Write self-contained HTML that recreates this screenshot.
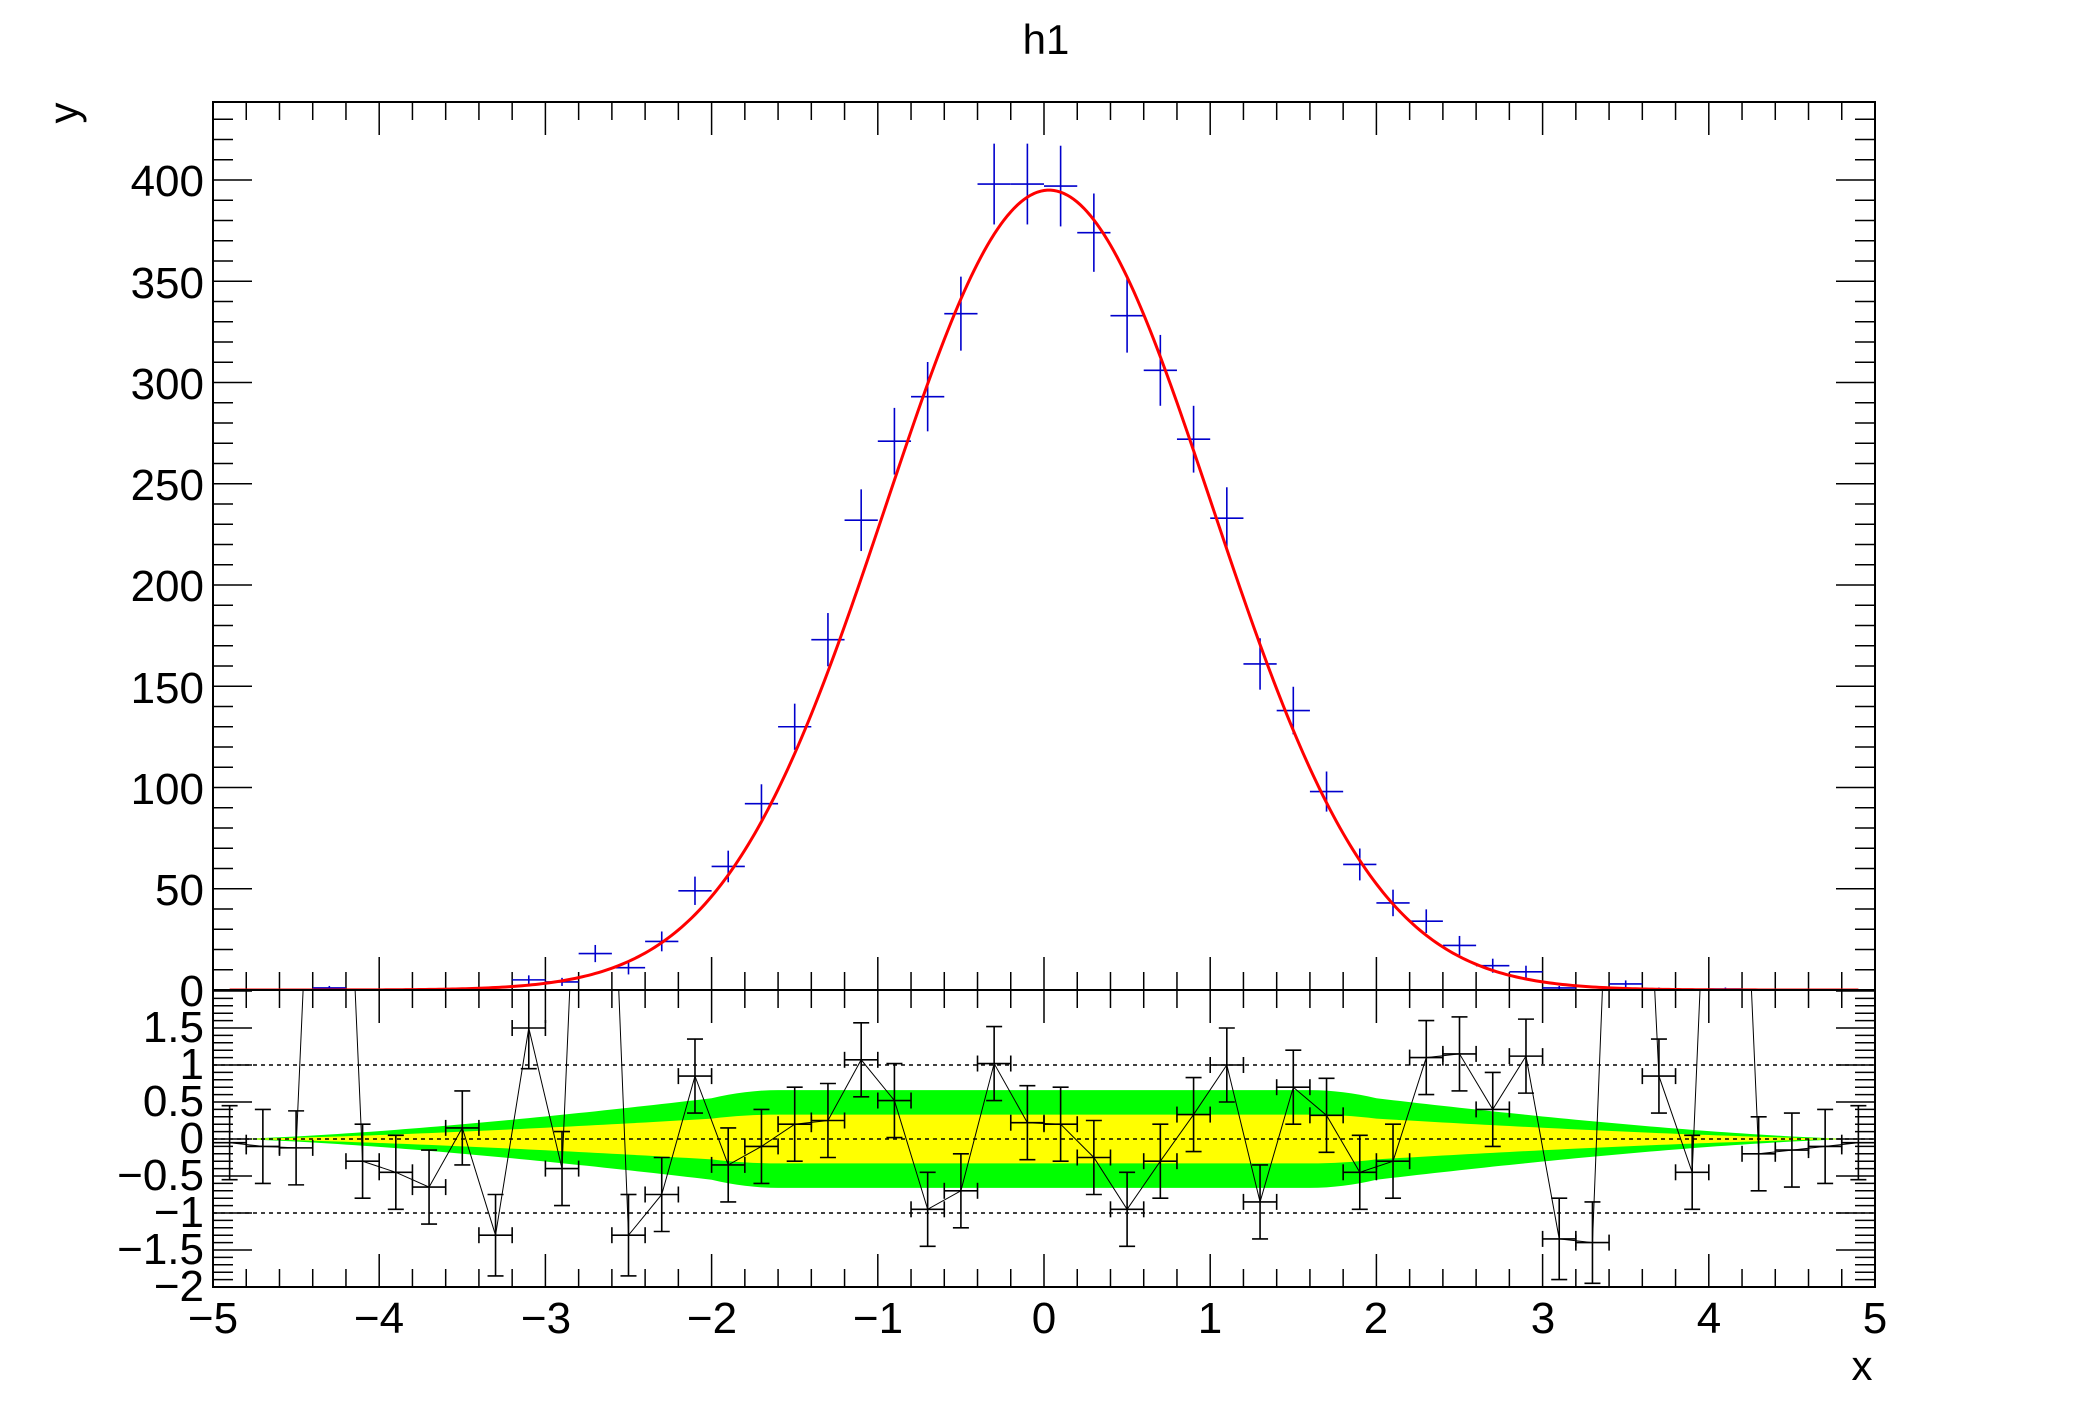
<!DOCTYPE html>
<html><head><meta charset="utf-8"><style>
html,body{margin:0;padding:0;background:#fff;}
svg{display:block;}
text{font-family:"Liberation Sans",sans-serif;fill:#000;}
</style></head><body>
<svg id="s" width="2088" height="1416" viewBox="0 0 2088 1416" xmlns="http://www.w3.org/2000/svg">
<defs>
<clipPath id="cu"><rect x="213" y="102" width="1662" height="888"/></clipPath>
<clipPath id="cl"><rect x="213" y="990" width="1662" height="297"/></clipPath>
</defs>
<g id="bands" clip-path="url(#cl)"></g>
<g id="grid"></g>
<g id="ticks" stroke="#000" stroke-width="1.5"></g>
<g id="lower" clip-path="url(#cl)"></g>
<g id="upper" clip-path="url(#cu)"></g>
<rect x="213" y="102" width="1662" height="1185" fill="none" stroke="#000" stroke-width="2"/>
<line x1="213" y1="990" x2="1875" y2="990" stroke="#000" stroke-width="2"/>
<text x="1046" y="54" font-size="42" text-anchor="middle">h1</text>
<text x="0" y="0" font-size="42" transform="translate(78,113) rotate(-90)" text-anchor="middle">y</text>
<text x="1862" y="1380" font-size="42" text-anchor="middle">x</text>
<g font-size="44" text-anchor="end">
<text x="204" y="196">400</text>
<text x="204" y="298">350</text>
<text x="204" y="399">300</text>
<text x="204" y="500">250</text>
<text x="204" y="601">200</text>
<text x="204" y="703">150</text>
<text x="204" y="804">100</text>
<text x="204" y="905">50</text>
<text x="204" y="1006">0</text>
<text x="204" y="1042">1.5</text>
<text x="204" y="1079">1</text>
<text x="204" y="1116">0.5</text>
<text x="204" y="1153">0</text>
<text x="204" y="1190">−0.5</text>
<text x="204" y="1227">−1</text>
<text x="204" y="1264">−1.5</text>
<text x="204" y="1301">−2</text>
</g>
<g font-size="44" text-anchor="middle">
<text x="213" y="1333">−5</text>
<text x="379" y="1333">−4</text>
<text x="546" y="1333">−3</text>
<text x="712" y="1333">−2</text>
<text x="878" y="1333">−1</text>
<text x="1044" y="1333">0</text>
<text x="1210" y="1333">1</text>
<text x="1376" y="1333">2</text>
<text x="1543" y="1333">3</text>
<text x="1709" y="1333">4</text>
<text x="1875" y="1333">5</text>
</g>
</svg>
<script>
var NS="http://www.w3.org/2000/svg";
function X(x){return 213+(x+5)*166.2;}
function YU(v){return 990-v*2.025;}
function YL(r){return 1139-r*74;}
function el(p,t,a){var e=document.createElementNS(NS,t);for(var k in a)e.setAttribute(k,a[k]);document.getElementById(p).appendChild(e);return e;}
function ln(p,x1,y1,x2,y2,st){var a={x1:x1,y1:y1,x2:x2,y2:y2};for(var k in st)a[k]=st[k];return el(p,"line",a);}
var i;
for(i=0;i<=50;i++){var x=X(-5+i*0.2),maj=(i%5==0),L=maj?33:18;
 ln("ticks",x,102,x,102+L);ln("ticks",x,990,x,990-L);ln("ticks",x,990,x,990+L);ln("ticks",x,1287,x,1287-L);}
for(i=0;i<=43;i++){var y=YU(i*10),L=(i%5==0)?39:20;ln("ticks",213,y,213+L,y);ln("ticks",1875,y,1875-L,y);}
for(i=-20;i<=20;i++){var y=YL(i*0.1),L=(i%5==0)?39:20;ln("ticks",213,y,213+L,y);ln("ticks",1875,y,1875-L,y);}
[1,0,-1].forEach(function(r){ln("grid",213,YL(r),1875,YL(r),{stroke:"#000","stroke-width":1.5,"stroke-dasharray":"4,4"});});
function s(x){var a=Math.abs(x);var base=0.33;
 if(a<=1.6)return base;var t=(a-1.6)/3.3;if(t>1)t=1;
 var f=Math.pow(1-t,1.4);
 if(a<2.0){var w=(a-1.6)/0.4;f=1-(1-f)*w;} return base*f;}
function band(k,col){var pts=[],x;for(x=-4.9;x<=4.9001;x+=0.05)pts.push(X(x)+","+YL(k*s(x)));
 for(x=4.9;x>=-4.9001;x-=0.05)pts.push(X(x)+","+YL(-k*s(x)));el("bands","polygon",{points:pts.join(" "),fill:col});}
band(2,"#00ff00");band(1,"#ffff00");
var up={"-4.3":1,"-3.1":5,"-2.9":4,"-2.7":18,"-2.5":11,"-2.3":24,"-2.1":49,"-1.9":61,"-1.7":92,"-1.5":130,"-1.3":173,"-1.1":232,"-0.9":271,"-0.7":293,"-0.5":334,"-0.3":398,"-0.1":398,"0.1":397,"0.3":374,"0.5":333,"0.7":306,"0.9":272,"1.1":233,"1.3":161,"1.5":138,"1.7":98,"1.9":62,"2.1":43,"2.3":34,"2.5":22,"2.7":12,"2.9":9,"3.1":1,"3.5":3,"3.7":0.5,"4.1":0.5};
var st={stroke:"#0000cc","stroke-width":1.6};
for(var k in up){var x=parseFloat(k),v=up[k],e=Math.sqrt(v);
 ln("upper",X(x-0.1),YU(v),X(x+0.1),YU(v),st);ln("upper",X(x),YU(v+e),X(x),YU(Math.max(v-e,0)),st);}
var pts=[];for(var x=-4.9;x<=4.9001;x+=0.02){var v=395*Math.exp(-Math.pow(x-0.03,2)/(2*0.98*0.98));pts.push(X(x)+","+YU(v));}
el("upper","polyline",{points:pts.join(" "),fill:"none",stroke:"#ff0000","stroke-width":3});
var r=[-0.05,-0.1,-0.12,10,-0.3,-0.45,-0.65,0.15,-1.3,1.5,-0.4,10,-1.3,-0.75,0.85,-0.35,-0.1,0.2,0.25,1.07,0.52,-0.95,-0.7,1.02,0.22,0.2,-0.25,-0.95,-0.3,0.33,1.0,-0.85,0.7,0.32,-0.45,-0.3,1.1,1.15,0.4,1.12,-1.35,-1.4,10,0.85,-0.45,10,-0.2,-0.15,-0.1,-0.05];
var lp=[];var bs={stroke:"#000","stroke-width":1.6};
for(i=0;i<50;i++){var x=-4.9+i*0.2,v=r[i];lp.push(X(x)+","+YL(v));
 if(v>5)continue;var e=(Math.abs(v)>1.2)?0.55:0.5;
 var cx=X(x),cy=YL(v);
 ln("lower",X(x-0.1),cy,X(x+0.1),cy,bs);ln("lower",X(x-0.1),cy-8,X(x-0.1),cy+8,bs);ln("lower",X(x+0.1),cy-8,X(x+0.1),cy+8,bs);
 ln("lower",cx,YL(v+e),cx,YL(v-e),bs);ln("lower",cx-8,YL(v+e),cx+8,YL(v+e),bs);ln("lower",cx-8,YL(v-e),cx+8,YL(v-e),bs);}
el("lower","polyline",{points:lp.join(" "),fill:"none",stroke:"#000","stroke-width":1});
</script>
</body></html>
